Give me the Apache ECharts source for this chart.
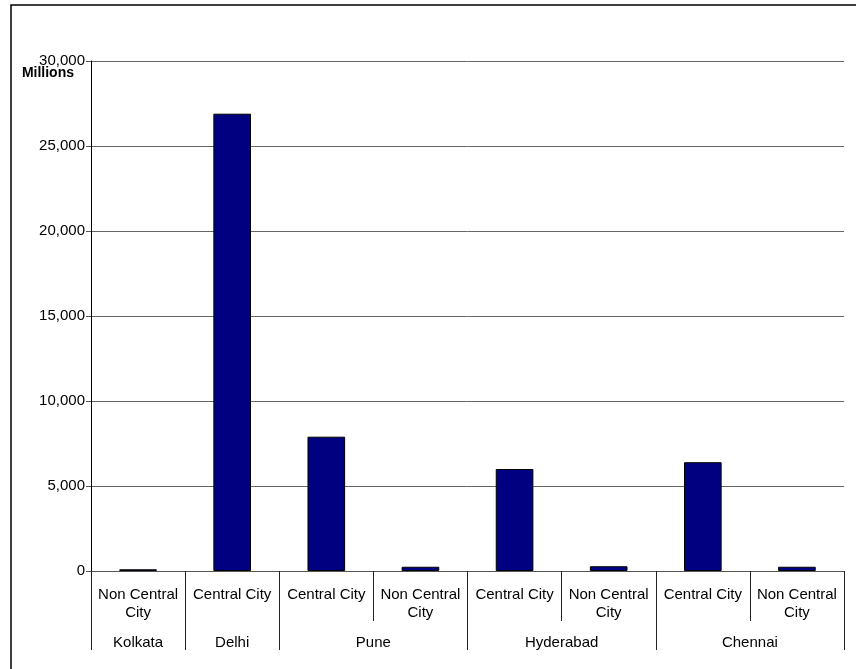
<!DOCTYPE html>
<html>
<head>
<meta charset="utf-8">
<script src="https://cdn.jsdelivr.net/npm/echarts@6/dist/echarts.min.js"></script>
<style>
html,body{margin:0;padding:0;background:#fff;}
#chart{width:856px;height:669px;}
</style>
</head>
<body>
<div id="chart"></div>
<script>
// Data
var subCategories = ['Non Central\nCity', 'Central City', 'Central City', 'Non Central\nCity', 'Central City', 'Non Central\nCity', 'Central City', 'Non Central\nCity'];
var cityOfCategory = ['Kolkata', 'Delhi', 'Pune', 'Pune', 'Hyderabad', 'Hyderabad', 'Chennai', 'Chennai'];
var cities = ['Kolkata', 'Delhi', 'Pune', 'Hyderabad', 'Chennai'];
var values = [100, 26900, 7900, 250, 6000, 280, 6400, 250];
var yTicks = [0, 5000, 10000, 15000, 20000, 25000, 30000];
var yAxisName = 'Millions';

// group boundaries (index of first category of each city)
var groupStart = {};
var groupSize = {};
cityOfCategory.forEach(function (c, i) {
  if (groupStart[c] === undefined) { groupStart[c] = i; groupSize[c] = 0; }
  groupSize[c]++;
});

var chart = echarts.init(document.getElementById('chart'), null, {renderer: 'canvas'});
var FONT = 'Liberation Sans, Arial, sans-serif';
var gridLeft = 91, gridRight = 12, gridTop = 61, gridBottom = 98;
var bandW = (856 - gridLeft - gridRight) / subCategories.length;

function fmt(v) { return v.toString().replace(/\B(?=(\d{3})+(?!\d))/g, ','); }

var option = {
  backgroundColor: '#fff',
  animation: false,
  graphic: [{
    type: 'rect',
    shape: {x: 11, y: 5, width: 900, height: 700},
    style: {fill: 'none', stroke: '#000', lineWidth: 1.5},
    silent: true
  }],
  grid: {left: gridLeft, right: gridRight, top: gridTop, bottom: gridBottom, containLabel: false},
  xAxis: [{
    type: 'category',
    data: subCategories,
    position: 'bottom',
    boundaryGap: true,
    axisLine: {show: true, lineStyle: {color: '#555', width: 1}},
    axisTick: {show: true, length: 50, interval: 0, lineStyle: {color: '#222', width: 1}},
    axisLabel: {
      interval: 0, margin: 15, color: '#000',
      fontFamily: FONT, fontSize: 15, lineHeight: 18
    },
    splitLine: {show: false}
  }, {
    type: 'category',
    data: cityOfCategory,
    position: 'bottom',
    boundaryGap: true,
    axisLine: {show: false},
    axisTick: {
      show: true, length: 79,
      interval: function (index) {
        return groupStart[cityOfCategory[index]] === index;
      },
      lineStyle: {color: '#222', width: 1}
    },
    axisLabel: {
      margin: 64, color: '#000', fontFamily: FONT, fontSize: 15,
      interval: function (index) {
        return groupStart[cityOfCategory[index]] === index;
      },
      formatter: function (val, index) {
        if (groupSize[val] === 2) return '{shift|' + val + '}';
        return val;
      },
      rich: {
        shift: {padding: [0, 0, 0, bandW], fontFamily: FONT, fontSize: 15, color: '#000'}
      }
    },
    splitLine: {show: false}
  }],
  yAxis: {
    type: 'value',
    min: 0, max: 30000, interval: 5000,
    name: yAxisName,
    nameLocation: 'end',
    nameGap: -12,
    nameMoveOverlap: false,
    nameTextStyle: {
      fontFamily: FONT, fontSize: 14, fontWeight: 'bold', color: '#000',
      align: 'right', verticalAlign: 'middle', padding: [0, 17, 0, 0]
    },
    axisLine: {show: true, lineStyle: {color: '#000', width: 1}},
    axisTick: {show: true, length: 5, lineStyle: {color: '#555'}},
    axisLabel: {
      margin: 6, color: '#000', fontFamily: FONT, fontSize: 15,
      formatter: function (v) { return yTicks.indexOf(v) >= 0 ? fmt(v) : ''; }
    },
    splitLine: {show: true, lineStyle: {color: '#666', width: 1}}
  },
  series: [{
    type: 'bar',
    xAxisIndex: 0,
    data: values,
    barWidth: '40%',
    itemStyle: {color: '#000080', borderColor: '#000', borderWidth: 1}
  }]
};
chart.setOption(option);
</script>
</body>
</html>
